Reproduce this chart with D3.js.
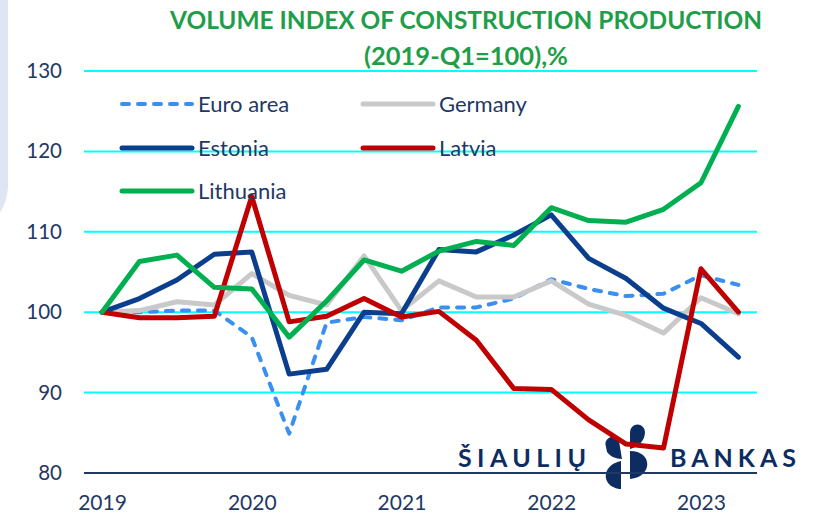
<!DOCTYPE html>
<html>
<head>
<meta charset="utf-8">
<script src="https://cdn.jsdelivr.net/npm/d3@7"></script>
<style>
  html, body { margin: 0; padding: 0; background: #ffffff; }
  svg { display: block; }
  text { font-family: Lato, "Noto Sans", sans-serif; }
</style>
</head>
<body>
<svg id="chart" width="820" height="513"></svg>
<script>
// ---- data ----
const quarters = ["2019-Q1","2019-Q2","2019-Q3","2019-Q4","2020-Q1","2020-Q2","2020-Q3","2020-Q4",
                  "2021-Q1","2021-Q2","2021-Q3","2021-Q4","2022-Q1","2022-Q2","2022-Q3","2022-Q4",
                  "2023-Q1","2023-Q2"];
const yearLabels = ["2019","2020","2021","2022","2023"];
const yearTickQuarters = ["2019-Q1","2020-Q1","2021-Q1","2022-Q1","2023-Q1"];
const yTicks = [80, 90, 100, 110, 120, 130];

const euroArea  = [100, 100.0, 100.2, 100.2, 96.9, 84.9, 98.7, 99.4, 99.0, 100.6, 100.6, 101.7, 104.1, 102.9, 102.0, 102.3, 104.6, 103.4];
const germany   = [100, 100.2, 101.3, 100.9, 104.8, 102.1, 100.9, 107.0, 100.2, 103.9, 101.9, 101.9, 103.9, 101.0, 99.6, 97.4, 101.8, 99.8];
const estonia   = [100, 101.7, 104.0, 107.2, 107.5, 92.3, 92.9, 100.0, 99.8, 107.8, 107.5, 109.6, 112.1, 106.7, 104.2, 100.5, 98.6, 94.4];
const latvia    = [100, 99.3, 99.3, 99.5, 114.4, 98.8, 99.5, 101.7, 99.4, 100.1, 96.5, 90.5, 90.4, 86.6, 83.6, 83.1, 105.4, 100.0];
const lithuania = [100, 106.3, 107.1, 103.1, 102.9, 96.9, 101.4, 106.5, 105.1, 107.6, 108.8, 108.3, 113.0, 111.4, 111.2, 112.8, 116.1, 125.6];

const seriesNames = ["Euro area", "Germany", "Estonia", "Latvia", "Lithuania"];
const seriesValues = [euroArea, germany, estonia, latvia, lithuania];
const seriesColors = ["#3a8ff0", "#c9c9c9", "#0b3f8e", "#c00000", "#00b050"];

// ---- drawing ----
const svg = d3.select("#chart");
const navy = "#1f3864";

// left decorative panel
svg.append("path")
  .attr("d", "M0,0 H8 V185 Q8,200 0,213 Z")
  .attr("fill", "#dfe5f3");

const x = d3.scalePoint().domain(quarters).range([102, 738.4]);
const y = d3.scaleLinear().domain([80, 130]).range([473, 71]);
const gridX0 = 84, gridX1 = 757;

// gridlines
svg.append("g").selectAll("line")
  .data(yTicks.filter(t => t !== 80))
  .join("line")
  .attr("x1", gridX0).attr("x2", gridX1)
  .attr("y1", d => y(d)).attr("y2", d => y(d))
  .attr("stroke", "#00ffff").attr("stroke-width", 2);

// y axis labels
const yAxis = svg.append("g")
  .attr("transform", "translate(62,0)")
  .call(d3.axisLeft(y).tickValues(yTicks).tickSize(0).tickPadding(0));
yAxis.select(".domain").remove();
yAxis.selectAll("text")
  .attr("fill", navy).style("font-size", "20.5px").style("font-family", "Lato, sans-serif");

// title
svg.append("text")
  .attr("x", 466).attr("y", 29)
  .attr("text-anchor", "middle")
  .attr("fill", "#1f9e4a")
  .style("font-size", "24.5px").style("font-weight", "bold")
  .attr("textLength", 592).attr("lengthAdjust", "spacingAndGlyphs")
  .text("VOLUME INDEX OF CONSTRUCTION PRODUCTION");
svg.append("text")
  .attr("x", 466).attr("y", 65)
  .attr("text-anchor", "middle")
  .attr("fill", "#1f9e4a")
  .style("font-size", "24.5px").style("font-weight", "bold")
  .attr("textLength", 204).attr("lengthAdjust", "spacingAndGlyphs")
  .text("(2019-Q1=100),%");

// logo (behind lines)
const logo = svg.append("g").attr("fill", "#0d2d62");
logo.append("text").attr("x", 458).attr("y", 467)
  .style("font-size", "25px").style("font-weight", "bold").style("font-family", "Lato, sans-serif")
  .attr("textLength", 128).attr("lengthAdjust", "spacing")
  .text("ŠIAULIŲ");
logo.append("text").attr("x", 670).attr("y", 467)
  .style("font-size", "25px").style("font-weight", "bold").style("font-family", "Lato, sans-serif")
  .attr("textLength", 126).attr("lengthAdjust", "spacing")
  .text("BANKAS");
logo.append("path").attr("d", "M606,447 A7,7 0 0 1 619,441 L622,459 Q612,459 607,452 Z");
logo.append("path").attr("d", "M621,461 C601,465 601,486 619,489 L621,489 Z");
logo.append("path").attr("d", "M630,449 L630,432 A7.5,7.5 0 0 1 645,432 C645,441 638,447 630,449 Z");
logo.append("path").attr("d", "M630,451 C653,451 653,477 630,479 Z");

// bottom axis line
svg.append("line")
  .attr("x1", gridX0).attr("x2", gridX1)
  .attr("y1", y(80)).attr("y2", y(80))
  .attr("stroke", navy).attr("stroke-width", 2);

// x axis labels
const xAxis = svg.append("g")
  .attr("transform", `translate(0,${y(80)})`)
  .call(d3.axisBottom(x).tickValues(yearTickQuarters)
        .tickFormat((d, i) => yearLabels[i]).tickSize(0).tickPadding(22));
xAxis.select(".domain").remove();
xAxis.selectAll("text")
  .attr("fill", navy).style("font-size", "21px").style("font-family", "Lato, sans-serif");

// lines
const line = d3.line().x((d, i) => x(quarters[i])).y(d => y(d));
seriesValues.forEach((vals, k) => {
  svg.append("path")
    .datum(vals)
    .attr("d", line)
    .attr("fill", "none")
    .attr("stroke", seriesColors[k])
    .attr("stroke-width", k === 0 ? 4 : 5)
    .attr("stroke-linejoin", "round")
    .attr("stroke-linecap", "round")
    .attr("stroke-dasharray", k === 0 ? "7,9" : null);
});

// legend
const legendPos = [
  {lx: 122, ly: 104}, {lx: 363, ly: 104},
  {lx: 122, ly: 148}, {lx: 363, ly: 148},
  {lx: 122, ly: 191}
];
seriesNames.forEach((name, k) => {
  const p = legendPos[k];
  svg.append("line")
    .attr("x1", p.lx).attr("x2", p.lx + 70)
    .attr("y1", p.ly).attr("y2", p.ly)
    .attr("stroke", seriesColors[k])
    .attr("stroke-width", k === 0 ? 4 : 5)
    .attr("stroke-linecap", "round")
    .attr("stroke-dasharray", k === 0 ? "7,9" : null);
  svg.append("text")
    .attr("x", p.lx + 76).attr("y", p.ly)
    .attr("dy", "0.35em")
    .attr("fill", navy)
    .style("font-size", "22px")
    .text(name);
});
</script>
</body>
</html>
